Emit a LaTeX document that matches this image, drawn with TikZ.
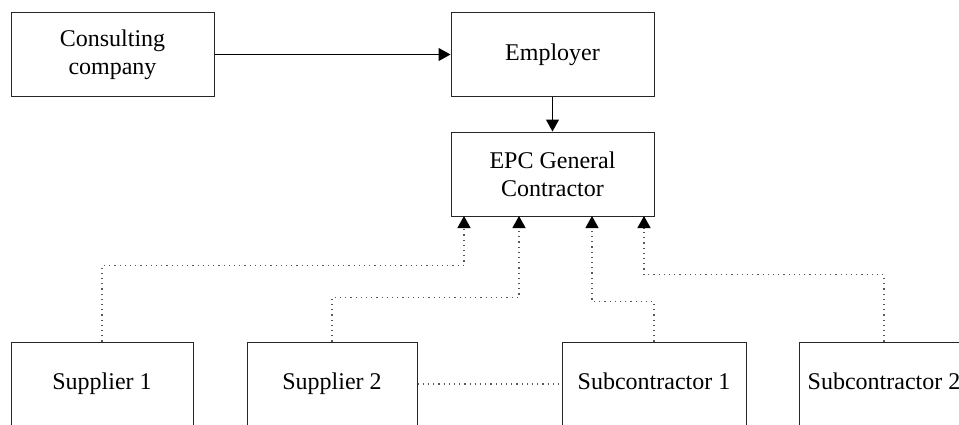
\documentclass[tikz,border=0pt]{standalone}
\usepackage{fontspec}
\setmainfont{Liberation Serif}
\usetikzlibrary{arrows.meta}

\begin{document}
\begin{tikzpicture}[x=0.5pt, y=-0.5pt,
    every node/.style={draw=black!85, line width=0.5pt, align=center, minimum height=42pt, font=\fontsize{12}{13.8}\selectfont},
    onerow/.style={text height=8.5pt, text depth=2.8pt},
    edge/.style={draw=black, line width=0.5pt, -{Triangle[length=6pt, width=6.5pt]}},
    link/.style={draw=black!65, line width=0.6pt, dotted},
    linkarrow/.style={link, -{Triangle[length=6pt, width=6.5pt, black]}}]

    \clip (0,0) rectangle (959,424);

    % Nodes
    \node[minimum width=101.5pt] (consult) at (112.5,54.5) {Consulting\\company};
    \node[minimum width=101.5pt, onerow] (employer) at (552.5,54.5) {Employer};
    \node[minimum width=101.5pt] (epc) at (552.5,174) {EPC General\\Contractor};
    \node[minimum width=91pt, onerow] (sup1) at (102,384) {Supplier 1};
    \node[minimum width=85pt, onerow] (sup2) at (332,384) {Supplier 2};
    \node[minimum width=92pt, onerow] (sub1) at (654,384) {Subcontractor 1};
    \node[minimum width=85pt, onerow] (sub2) at (884,384) {Subcontractor 2};

    % Entry points on the contractor
    \coordinate (e1) at (464,216);
    \coordinate (e2) at (519,216);
    \coordinate (e3) at (592,216);
    \coordinate (e4) at (644,216);

    % Solid edges
    \draw[edge] (consult) -- (employer);
    \draw[edge] (employer) -- (epc);

    % Dotted links
    \draw[linkarrow] (sup1.north) -- ++(0,-76) -| (e1);
    \draw[linkarrow] (sup2.north) -- ++(0,-44) -| (e2);
    \draw[linkarrow] (sub1.north) -- ++(0,-40) -| (e3);
    \draw[linkarrow] (sub2.north) -- ++(0,-67) -| (e4);
    \draw[link] (sup2) -- (sub1);

\end{tikzpicture}
\end{document}
